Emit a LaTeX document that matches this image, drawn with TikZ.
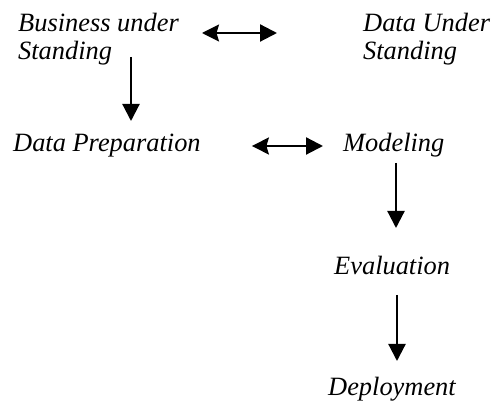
\documentclass[tikz,border=0pt]{standalone}
\usepackage{fontspec}
\setmainfont{Liberation Serif}
\usetikzlibrary{arrows.meta}
\begin{document}
\begin{tikzpicture}[x=1pt,y=1pt,
  lbl/.style={anchor=base west,inner sep=0pt,font=\fontsize{26.4}{28}\selectfont\itshape},
  arr/.style={line width=2.2pt,-{Triangle[length=17pt,width=17pt]}},
  dbl/.style={line width=2.2pt,{Stealth[length=17pt,width=17pt,inset=2.5pt]}-{Triangle[length=17pt,width=17pt]}}]
\useasboundingbox (0,0) rectangle (493,402);
% stage labels
\node[lbl] (bu1) at (18,370) {Business under};
\node[lbl] (bu2) at (18,342) {Standing};
\node[lbl] (du1) at (363,370) {Data Under};
\node[lbl] (du2) at (363,342) {Standing};
\node[lbl] (dp) at (13,250) {Data Preparation};
\node[lbl] (mo) at (343,250) {Modeling};
\node[lbl] (ev) at (334,127) {Evaluation};
\node[lbl] (de) at (328,7) {Deployment};
% free ends of the vertical arrows
\coordinate (v1a) at (131,345);
\coordinate (v1b) at (131,281);
\coordinate (v2a) at (396,239);
\coordinate (v2b) at (396,174);
\coordinate (v3a) at (397,107);
\coordinate (v3b) at (397,41);
% connectors
\draw[dbl] ([xshift=23pt,yshift=-1pt]bu1.base east) -- ([xshift=-86pt,yshift=-1pt]du1.base west);
\draw[dbl] ([xshift=51pt,yshift=6pt]dp.base east) -- ([xshift=-20pt,yshift=6pt]mo.base west);
\draw[arr] (v1a) -- (v1b);
\draw[arr] (v2a) -- (v2b);
\draw[arr] (v3a) -- (v3b);
\end{tikzpicture}
\end{document}
